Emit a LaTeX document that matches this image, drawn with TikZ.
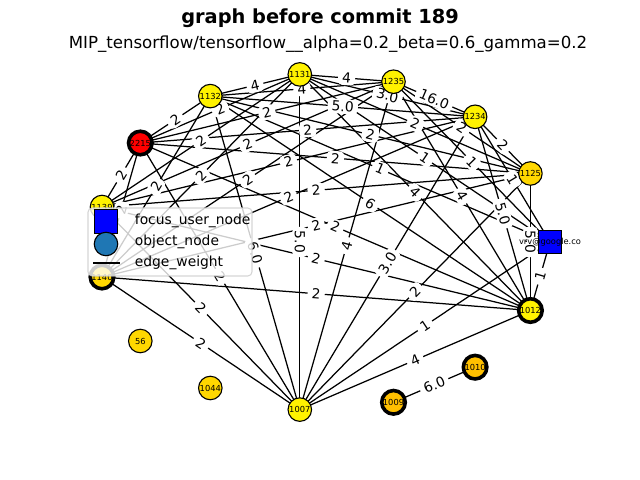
\documentclass[tikz,border=0pt]{standalone}
\usepackage{fontspec}
\setmainfont{DejaVu Sans}
\usepackage{xcolor}
\usetikzlibrary{shapes.geometric}

\definecolor{nodeyellow}{HTML}{FFF200}
\definecolor{nodegold}{HTML}{FFD700}
\definecolor{nodeamber}{HTML}{FFC000}
\definecolor{tabblue}{HTML}{1F77B4}

\pgfdeclarelayer{edgelayer}
\pgfdeclarelayer{labellayer}
\pgfsetlayers{edgelayer,labellayer,main}

\begin{document}
\begin{tikzpicture}[
    x=0.01in, y=-0.01in,
    objnode/.style={circle, draw, line width=0.8pt, minimum size=17pt, inner sep=0pt, font=\fontsize{6}{7}\selectfont},
    yelnode/.style={objnode, fill=nodeyellow},
    goldnode/.style={objnode, fill=nodegold},
    ambernode/.style={objnode, fill=nodeamber},
    focusring/.style={line width=2.6pt},
    usernode/.style={rectangle, draw, line width=0.8pt, fill=blue, minimum size=17pt, inner sep=0pt},
    edge/.style={line width=0.9pt},
    elabel/.style={midway, sloped, fill=white, rounded corners=3pt, inner xsep=3pt, inner ysep=1.5pt, font=\fontsize{10}{12}\selectfont},
    legendtext/.style={anchor=west, font=\fontsize{10}{12}\selectfont},
    legendbox/.style={draw=gray!40, fill=white, fill opacity=0.8, draw opacity=0.8, rounded corners=3pt, line width=0.8pt}
]
\useasboundingbox (0,0) rectangle (640,480);

% titles
\node[font=\bfseries\fontsize{14}{16}\selectfont] (title) at (320,18) {graph before commit 189};
\node[font=\fontsize{12}{14}\selectfont] (subtitle) at (328,44) {MIP\_tensorflow/tensorflow\_\_alpha=0.2\_beta=0.6\_gamma=0.2};

% nodes on the circle
\node[usernode, label={[font=\fontsize{6}{7}\selectfont]center:vrv@google.co}] (vrv) at (550,242) {};
\node[goldnode] (n1125) at (530.4,173.5) {1125};
\node[yelnode] (n1234) at (475.1,116.8) {1234};
\node[yelnode] (n1235) at (393.5,81.7) {1235};
\node[yelnode] (n1131) at (299.8,74.4) {1131};
\node[yelnode] (n1132) at (210.3,96.1) {1132};
\node[objnode, fill=red, focusring] (n2215) at (140.3,143) {2215};
\node[yelnode] (n1139) at (102,207) {1139};
\node[goldnode, focusring] (n1140) at (102,277) {1140};
\node[goldnode] (n56) at (140.3,341) {56};
\node[goldnode] (n1044) at (210.3,388) {1044};
\node[yelnode] (n1007) at (299.8,409.6) {1007};
\node[ambernode, focusring] (n1009) at (393.5,402.3) {1009};
\node[ambernode, focusring] (n1010) at (475.1,367.2) {1010};
\node[yelnode, focusring] (n1012) at (530.4,310.5) {1012};

% weighted edges
\foreach \a/\b/\w in {n1132/n1131/4, n1132/n1235/4, n1131/n1235/4, n1132/n1234/5.0,
    n1131/n1234/3.0, n1235/n1234/16.0, n1234/n1125/2, n1235/n1125/2, n1131/n1125/2,
    n1132/n1125/2, n2215/n1132/2, n2215/n1131/2, n2215/n1235/2, n2215/n1234/2,
    n2215/n1125/2, n2215/n1012/2, n2215/n1007/2, n2215/n1139/2, n2215/n1140/2,
    n1139/n1131/2, n1139/n1235/2, n1139/n1234/2, n1139/n1125/2, n1139/n1012/2,
    n1139/n1007/2, n1140/n1132/2, n1140/n1131/2, n1140/n1235/2, n1140/n1234/2,
    n1140/n1125/2, n1140/n1012/2, n1140/n1007/2, n1132/vrv/1, n1131/vrv/1,
    n1235/vrv/1, n1234/vrv/1, vrv/n1012/1, vrv/n1007/1, n1132/n1012/6,
    n1131/n1012/4, n1235/n1012/4, n1234/n1012/5.0, n1125/n1012/5.0, n1012/n1007/4,
    n1131/n1007/5.0, n1132/n1007/6.0, n1235/n1007/4, n1234/n1007/3.0,
    n1125/n1007/2, n1009/n1010/6.0}{
  \begin{pgfonlayer}{edgelayer}
    \draw[edge] (\a.center) -- (\b.center);
  \end{pgfonlayer}
  \begin{pgfonlayer}{labellayer}
    \path (\a.center) -- node[elabel] {\w} (\b.center);
  \end{pgfonlayer}
}

% legend
\draw[legendbox] (88,208) rectangle (252,276);
\node[usernode] (legsq) at (106,221.5) {};
\node[circle, draw, line width=0.8pt, fill=tabblue, minimum size=17pt, inner sep=0pt] (legcirc) at (106,244) {};
\coordinate (legA) at (93,263);
\coordinate (legB) at (120,263);
\draw[edge] (legA) -- (legB);
\node[legendtext] (legt1) at (130,221) {focus\_user\_node};
\node[legendtext] (legt2) at (130,242) {object\_node};
\node[legendtext] (legt3) at (130,263) {edge\_weight};
\end{tikzpicture}
\end{document}
